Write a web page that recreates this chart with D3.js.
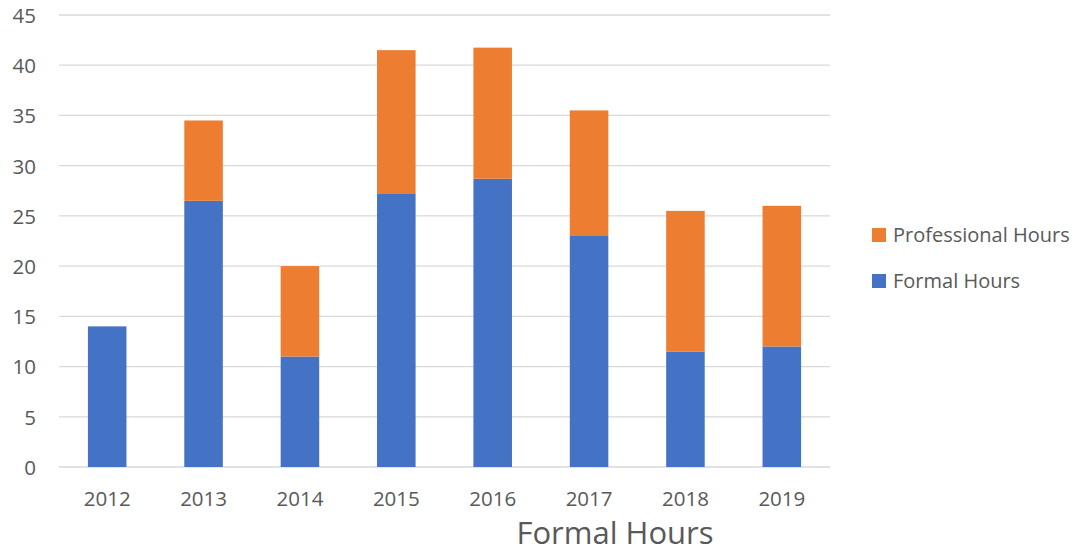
<!DOCTYPE html>
<html lang="en">
<head>
  <meta charset="UTF-8">
  <title>Formal Hours</title>
  <script src="https://d3js.org/d3.v7.min.js"></script>
  <style>
    body {
      margin: 0;
      background: #ffffff;
      font-family: 'Open Sans', sans-serif;
    }
    svg { display: block; }
    .tick text { fill: #595959; }
  </style>
</head>
<body>
<svg width="1080" height="552"></svg>
<script>
const years = ["2012", "2013", "2014", "2015", "2016", "2017", "2018", "2019"];
const formalHours = [14, 26.5, 11, 27.25, 28.7, 23, 11.5, 12];
const professionalHours = [0, 8, 9, 14.25, 13.05, 12.5, 14, 14];
const seriesNames = ["Formal Hours", "Professional Hours"];
const colors = ["#4472c4", "#ed7d31"];
const yTicks = [0, 5, 10, 15, 20, 25, 30, 35, 40, 45];

const svg = d3.select("svg");
const plotLeft = 59, plotRight = 830, plotTop = 15, plotBottom = 467;

const rows = years.map((yr, i) => ({
  year: yr,
  "Formal Hours": formalHours[i],
  "Professional Hours": professionalHours[i]
}));
const stacked = d3.stack().keys(seriesNames)(rows);

const x = d3.scaleBand().domain(years).range([plotLeft, plotRight]).padding(0);
const y = d3.scaleLinear().domain([0, 45]).range([plotBottom, plotTop]);
const barW = x.bandwidth() * 0.4;

// gridlines
svg.append("g")
  .selectAll("line")
  .data(yTicks)
  .join("line")
  .attr("x1", plotLeft)
  .attr("x2", plotRight)
  .attr("y1", d => y(d))
  .attr("y2", d => y(d))
  .attr("stroke", "#d9d9d9")
  .attr("stroke-width", 1.3);

// bars
svg.append("g")
  .selectAll("g")
  .data(stacked)
  .join("g")
  .attr("fill", (d, i) => colors[i])
  .selectAll("rect")
  .data(d => d.filter(p => p[1] > p[0]))
  .join("rect")
  .attr("x", d => x(d.data.year) + (x.bandwidth() - barW) / 2)
  .attr("width", barW)
  .attr("y", d => y(d[1]))
  .attr("height", d => y(d[0]) - y(d[1]));

// y axis labels
const yAxis = svg.append("g")
  .attr("transform", `translate(${plotLeft},0)`)
  .call(d3.axisLeft(y).tickValues(yTicks).tickSize(0).tickPadding(23));
yAxis.select(".domain").remove();
yAxis.selectAll("text")
  .attr("font-family", "'Open Sans', sans-serif")
  .attr("font-size", 20.5)
  .attr("dy", "0.36em");

// x axis labels
const xAxis = svg.append("g")
  .attr("transform", `translate(0,${plotBottom})`)
  .call(d3.axisBottom(x).tickSize(0).tickPadding(24));
xAxis.select(".domain").remove();
xAxis.selectAll("text")
  .attr("font-family", "'Open Sans', sans-serif")
  .attr("font-size", 20.5);

// axis title
svg.append("text")
  .attr("x", 615)
  .attr("y", 544)
  .attr("text-anchor", "middle")
  .attr("font-size", 31)
  .attr("fill", "#595959")
  .text("Formal Hours");

// legend (professional on top)
const legend = svg.append("g")
  .selectAll("g")
  .data([1, 0])
  .join("g")
  .attr("transform", (d, i) => `translate(872,${228 + i * 46})`);
legend.append("rect")
  .attr("width", 14)
  .attr("height", 14)
  .attr("fill", d => colors[d]);
legend.append("text")
  .attr("x", 21)
  .attr("y", 14)
  .attr("font-size", 20)
  .attr("fill", "#595959")
  .text(d => seriesNames[d]);
</script>
</body>
</html>
